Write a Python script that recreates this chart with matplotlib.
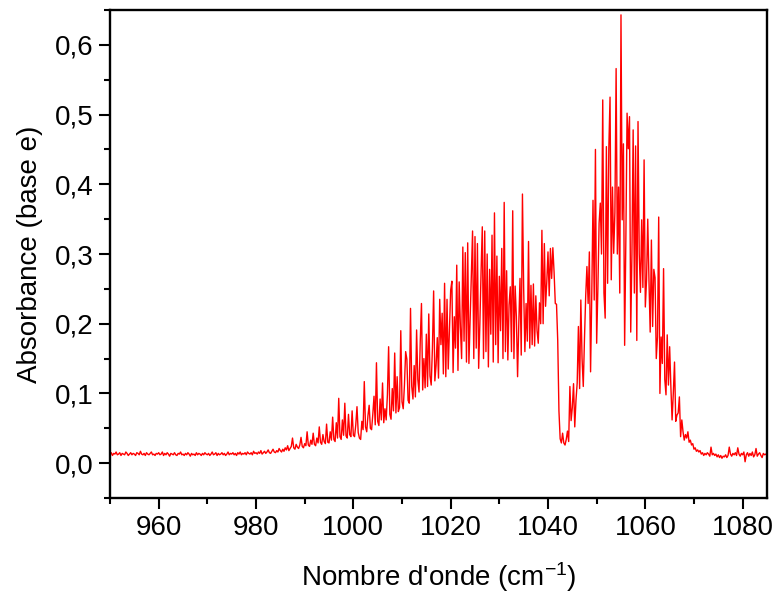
import numpy as np
import matplotlib
matplotlib.use("Agg")
import matplotlib.pyplot as plt
from matplotlib.ticker import FixedLocator, FuncFormatter

# Absorbance, in units of 0.001, on a 0.25 cm-1 grid
# starting at 950 cm-1 (20 values = 5 cm-1 per row).
absorbance_milli = [
    12, 15, 11, 14, 13, 16, 12, 13, 15, 11, 14, 13, 12, 16, 14, 11, 13, 15, 12, 14,   # 950
    13, 11, 15, 14, 12, 17, 13, 12, 14, 11, 15, 13, 12, 14, 16, 12, 13, 11, 14, 13,   # 955
    15, 12, 13, 16, 11, 14, 12, 15, 13, 10, 14, 13, 12, 15, 12, 11, 14, 13, 16, 12,   # 960
    13, 11, 14, 12, 15, 13, 10, 14, 12, 13, 11, 15, 12, 14, 13, 11, 14, 12, 15, 13,   # 965
    12, 14, 11, 13, 16, 12, 13, 15, 11, 14, 12, 13, 15, 12, 14, 11, 13, 16, 12, 14,   # 970
    13, 15, 12, 14, 11, 15, 13, 16, 12, 14, 13, 15, 12, 16, 14, 13, 15, 12, 17, 14,   # 975
    15, 13, 16, 14, 18, 13, 15, 17, 14, 16, 19, 15, 14, 17, 20, 16, 15, 18, 16, 21,   # 980
    18, 16, 20, 17, 22, 19, 25, 18, 21, 24, 36, 22, 20, 27, 23, 21, 26, 37, 24, 22,   # 985
    28, 25, 45, 26, 24, 33, 27, 43, 27, 25, 36, 29, 52, 30, 27, 41, 31, 28, 56, 30,   # 990
    29, 45, 33, 66, 34, 31, 58, 36, 93, 38, 34, 62, 40, 86, 39, 36, 70, 41, 38, 75,   # 995
    40, 38, 55, 81, 44, 36, 34, 60, 48, 117, 52, 45, 68, 83, 50, 48, 70, 96, 55, 144,  # 1000
    60, 54, 92, 62, 115, 58, 78, 62, 98, 167, 70, 63, 107, 75, 158, 72, 124, 74, 80, 190,  # 1005
    88, 78, 112, 160, 149, 90, 86, 222, 110, 92, 140, 95, 191, 120, 102, 175, 229, 105, 150, 108,  # 1010
    185, 110, 214, 125, 112, 165, 247, 118, 140, 180, 122, 235, 170, 215, 128, 258, 124, 235, 135, 190,  # 1015
    248, 261, 130, 210, 165, 284, 133, 260, 195, 150, 310, 175, 302, 145, 316, 143, 205, 267, 333, 150,  # 1020
    325, 165, 315, 136, 200, 275, 339, 150, 333, 160, 300, 138, 278, 185, 327, 145, 359, 170, 297, 144,  # 1025
    268, 190, 308, 150, 374, 160, 276, 148, 227, 253, 160, 362, 150, 254, 210, 124, 200, 265, 155, 386,  # 1030
    251, 160, 229, 175, 318, 165, 255, 170, 257, 168, 240, 190, 172, 230, 200, 334, 200, 315, 225, 260,  # 1035
    303, 240, 308, 265, 309, 274, 229, 228, 176, 75, 35, 29, 43, 29, 26, 34, 46, 31, 110, 61,  # 1040
    80, 114, 52, 90, 115, 196, 107, 234, 150, 110, 179, 240, 282, 229, 303, 131, 244, 377, 234, 450,  # 1045
    172, 250, 344, 373, 300, 521, 244, 208, 454, 258, 451, 525, 263, 396, 301, 360, 566, 300, 396, 244,  # 1050
    643, 349, 458, 169, 320, 502, 451, 497, 188, 300, 478, 244, 455, 176, 490, 300, 245, 349, 252, 435,  # 1055
    224, 262, 350, 262, 188, 320, 196, 278, 266, 150, 181, 353, 100, 181, 143, 279, 120, 98, 184, 112,  # 1060
    167, 110, 62, 100, 145, 60, 69, 72, 95, 38, 62, 45, 33, 41, 36, 45, 30, 33, 26, 28,   # 1065
    20, 22, 17, 19, 16, 18, 13, 15, 11, 14, 12, 15, 13, 10, 23, 12, 14, 11, 13, 9,   # 1070
    12, 8, 11, 7, 10, 9, 12, 8, 11, 23, 13, 10, 14, 12, 15, 11, 22, 13, 10, 14,   # 1075
    12, 16, 2, 12, 15, 10, 14, 11, 16, 9, 12, 21, 10, 13, 15, 11, 8, 14, 12, 13,   # 1080
    11,                                                                          # 1085
]
wn_start = 950.0
wn_step = 0.25

x_ticks = [960, 980, 1000, 1020, 1040, 1060, 1080]
x_minor = [950, 970, 990, 1010, 1030, 1050, 1070]
y_ticks = [0.0, 0.1, 0.2, 0.3, 0.4, 0.5, 0.6]
y_minor = [-0.05, 0.05, 0.15, 0.25, 0.35, 0.45, 0.55, 0.65]

assert len(absorbance_milli) == 541, len(absorbance_milli)
absorbance = np.array(absorbance_milli) / 1000.0
wavenumber = wn_start + wn_step * np.arange(len(absorbance))

plt.rcParams['font.family'] = ['Liberation Sans', 'DejaVu Sans']
plt.rcParams['mathtext.fontset'] = 'custom'
plt.rcParams['mathtext.rm'] = 'Liberation Sans'
plt.rcParams['mathtext.it'] = 'Liberation Sans'
plt.rcParams['mathtext.bf'] = 'Liberation Sans'

fig = plt.figure(figsize=(7.77, 5.98), dpi=100)
ax = fig.add_axes([0.1416, 0.1672, 0.9871 - 0.1416, 0.9833 - 0.1672])

ax.plot(wavenumber, absorbance, color='#ff0000', lw=1.0)

ax.set_xlim(950, 1085)
ax.set_ylim(-0.05, 0.65)
ax.xaxis.set_major_locator(FixedLocator(x_ticks))
ax.xaxis.set_minor_locator(FixedLocator(x_minor))
ax.yaxis.set_major_locator(FixedLocator(y_ticks))
ax.yaxis.set_minor_locator(FixedLocator(y_minor))
ax.yaxis.set_major_formatter(FuncFormatter(lambda v, p: f"{v:.1f}".replace('.', ',')))

for s in ax.spines.values():
    s.set_linewidth(1.7)
ax.tick_params(which='major', direction='out', length=8, width=1.5, labelsize=20, pad=4)
ax.tick_params(which='minor', direction='out', length=4.5, width=1.5)
ax.tick_params(top=False, right=False, which='both')

ax.set_xlabel(r"Nombre d'onde (cm$^{-1}$)", fontsize=20, labelpad=14)
ax.set_ylabel("Absorbance (base e)", fontsize=20, labelpad=8)

fig.savefig('out.png', dpi=100)
